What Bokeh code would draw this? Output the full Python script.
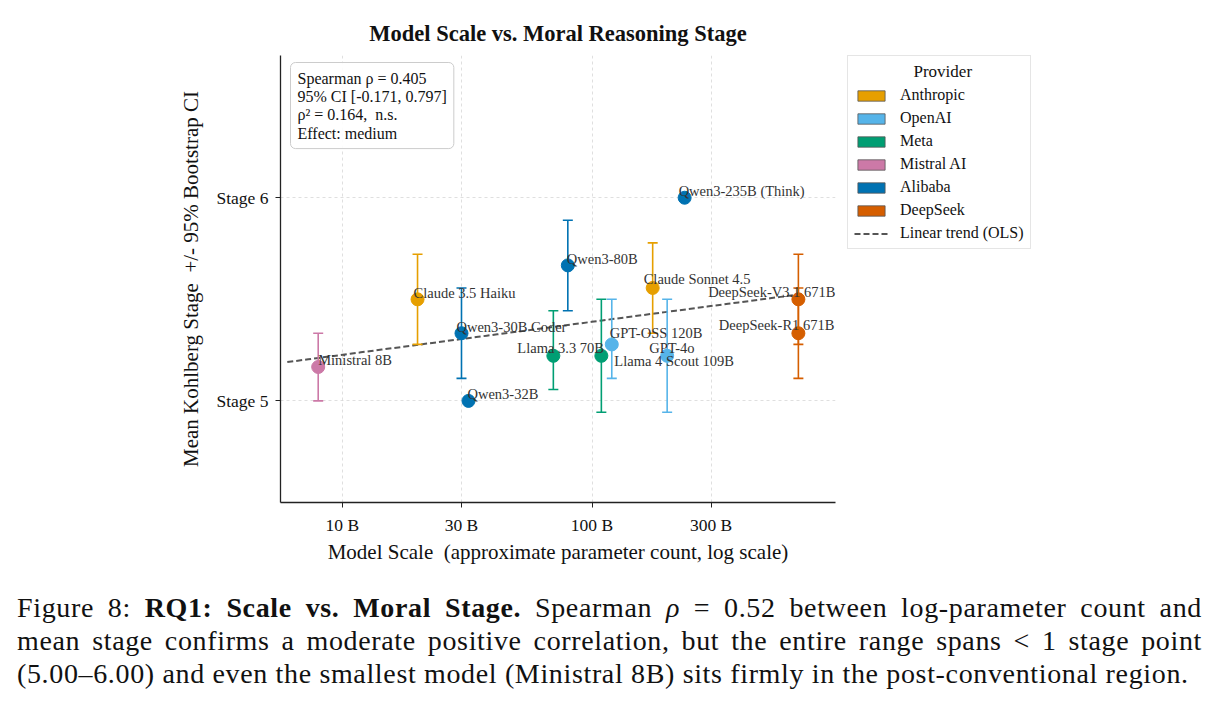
import numpy as np
from bokeh.plotting import figure
from bokeh.models import (ColumnDataSource, FixedTicker, Legend, LegendItem, Label, Div)
from bokeh.layouts import column, row
from bokeh.core.properties import value
from bokeh.embed import file_html
from bokeh.resources import INLINE

nan = float("nan")

# ---------------- data ----------------
models = ["Ministral 8B", "Claude 3.5 Haiku", "Qwen3-30B Coder", "Qwen3-32B",
          "Llama 3.3 70B", "Qwen3-80B", "Llama 4 Scout 109B", "GPT-OSS 120B",
          "Claude Sonnet 4.5", "GPT-4o", "Qwen3-235B (Think)",
          "DeepSeek-V3.1 671B", "DeepSeek-R1 671B"]
providers = ["Mistral AI", "Anthropic", "Alibaba", "Alibaba", "Meta", "Alibaba",
             "Meta", "OpenAI", "Anthropic", "OpenAI", "Alibaba", "DeepSeek", "DeepSeek"]
params_b = [8, 20, 30, 32, 70, 80, 109, 120, 175, 200, 235, 671, 671]
mean_stage = [5.167, 5.5, 5.333, 5.0, 5.222, 5.667, 5.222, 5.278, 5.556, 5.222,
              6.0, 5.5, 5.333]
ci_low = [5.0, 5.278, 5.111, nan, 5.056, 5.444, 4.944, 5.111, 5.333, 4.944,
          nan, 5.278, 5.111]
ci_high = [5.333, 5.722, 5.556, nan, 5.444, 5.889, 5.5, 5.5, 5.778, 5.5,
           nan, 5.722, 5.556]

provider_order = ["Anthropic", "OpenAI", "Meta", "Mistral AI", "Alibaba", "DeepSeek"]
provider_colors = ["#E69F00", "#56B4E9", "#009E73", "#CC79A7", "#0072B2", "#D55E00"]

x_ticks = [10, 30, 100, 300]
x_tick_labels = ["10 B", "30 B", "100 B", "300 B"]
y_ticks = [5, 6]
y_tick_labels = ["Stage 5", "Stage 6"]

stats_text = ("Spearman ρ = 0.405\n95% CI [-0.171, 0.797]\n"
              "ρ² = 0.164,\u00a0 n.s.\nEffect: medium")

# label placement (pixel offsets, style only)
label_dx = [0, -4, -5, -1, -36, -1, 13, -2, -9, -18, -6, 37, 36]
label_dy = [-7, -6, -6, -7, -8, -6, 5, -11, -9, -8, -7, -7, -8]
label_right = [False] * 11 + [True, True]

FONT = "Liberation Serif"
cmap = dict(zip(provider_order, provider_colors))
colors = [cmap[p] for p in providers]

TOP, BOTTOM, H = 55, 86, 588

p = figure(width=847, height=H, x_axis_type="log",
           x_range=(5.65, 945), y_range=(4.5, 6.7),
           output_backend="svg", toolbar_location=None,
           min_border_left=280, min_border_right=12,
           min_border_top=TOP, min_border_bottom=BOTTOM,
           title="Model Scale vs. Moral Reasoning Stage")
p.outline_line_color = None
p.background_fill_color = "white"
p.border_fill_color = "white"

p.title.text_font = FONT
p.title.text_font_size = "22.5px"
p.title.text_font_style = "bold"
p.title.align = "center"
p.title.text_color = "#111111"
p.title.standoff = 20

# axes
for ax in (p.xaxis[0], p.yaxis[0]):
    ax.axis_line_color = "#222222"
    ax.axis_line_width = 1.3
    ax.major_tick_line_color = "#222222"
    ax.major_tick_out = 5
    ax.major_tick_in = 0
    ax.minor_tick_line_color = None
    ax.major_label_text_font = FONT
    ax.major_label_text_font_size = "17.5px"
    ax.major_label_text_color = "#111111"
    ax.axis_label_text_font = FONT
    ax.axis_label_text_font_size = "21px"
    ax.axis_label_text_font_style = "normal"
    ax.axis_label_text_color = "#111111"

p.xaxis.ticker = FixedTicker(ticks=x_ticks, minor_ticks=[])
p.xaxis.major_label_overrides = {t: l for t, l in zip(x_ticks, x_tick_labels)}
p.yaxis.ticker = FixedTicker(ticks=y_ticks, minor_ticks=[])
p.yaxis.major_label_overrides = {t: l for t, l in zip(y_ticks, y_tick_labels)}
p.xaxis.axis_label = "Model Scale\u00a0 (approximate parameter count, log scale)"
p.yaxis.axis_label = "Mean Kohlberg Stage\u00a0 +/- 95% Bootstrap CI"
p.xaxis.major_label_standoff = 7
p.yaxis.major_label_standoff = 7
p.xaxis.axis_label_standoff = 2
p.yaxis.axis_label_standoff = 10

for g in (p.xgrid[0], p.ygrid[0]):
    g.grid_line_color = "#cccccc"
    g.grid_line_dash = "3 3"
    g.grid_line_width = 0.8
    g.grid_line_alpha = 0.8

# trend line (OLS on log10 params)
lx = np.log10(np.array(params_b, dtype=float))
ys = np.array(mean_stage)
slope, intercept = np.polyfit(lx, ys, 1)
tx = np.logspace(np.log10(min(params_b) / 1.33), np.log10(max(params_b) * 1.03), 50)
ty = slope * np.log10(tx) + intercept
TREND_STYLE = dict(line_color="#555555", line_width=2, line_dash="6 3")
p.line(tx, ty, **TREND_STYLE)

# error bars
has_ci = [not np.isnan(a) for a in ci_low]
eb = ColumnDataSource(dict(
    x=[x for x, h in zip(params_b, has_ci) if h],
    lo=[v for v, h in zip(ci_low, has_ci) if h],
    hi=[v for v, h in zip(ci_high, has_ci) if h],
    c=[c for c, h in zip(colors, has_ci) if h],
))
p.segment(x0="x", y0="lo", x1="x", y1="hi", source=eb, line_color="c", line_width=1.6)
p.scatter(x="x", y="lo", source=eb, marker="dash", size=10, line_color="c", line_width=1.6)
p.scatter(x="x", y="hi", source=eb, marker="dash", size=10, line_color="c", line_width=1.6)

# points
src = ColumnDataSource(dict(x=params_b, y=mean_stage, c=colors))
p.scatter(x="x", y="y", source=src, size=13, fill_color="c", line_color="c")

# labels
for right in (False, True):
    idx = [i for i, r in enumerate(label_right) if r == right]
    s = ColumnDataSource(dict(x=[params_b[i] for i in idx], y=[mean_stage[i] for i in idx],
                              t=[models[i] for i in idx], dx=[label_dx[i] for i in idx],
                              dy=[label_dy[i] for i in idx]))
    p.text(x="x", y="y", text="t", source=s, x_offset="dx", y_offset="dy",
           text_font=value(FONT), text_font_size="14.5px", text_color="#333333",
           text_align="right" if right else "left", text_baseline="middle")

# stats box
lab_kwargs = dict(x=10, y=440, x_units="screen", y_units="screen", text=stats_text,
                  text_font=FONT, text_font_size="16px", text_color="#111111",
                  background_fill_color="white", background_fill_alpha=0.9,
                  border_line_color="#cccccc", border_line_width=1)
props = Label.properties()
if "anchor" in props:
    lab_kwargs["anchor"] = "top_left"
if "padding" in props:
    lab_kwargs["padding"] = 7
if "border_radius" in props:
    lab_kwargs["border_radius"] = 5
if "text_line_height" in props:
    lab_kwargs["text_line_height"] = 1.08
p.add_layout(Label(**lab_kwargs))

# ---------------- legend in its own panel ----------------
lg = figure(width=1219 - 847, height=H, output_backend="svg", toolbar_location=None,
            x_range=(0, 1), y_range=(0, 1), x_axis_location=None, y_axis_location=None,
            min_border_left=0, min_border_right=0,
            min_border_top=TOP, min_border_bottom=BOTTOM)
lg.outline_line_color = None
lg.xgrid.visible = False
lg.ygrid.visible = False
lg.border_fill_color = "white"

items = []
for prov, col in zip(provider_order, provider_colors):
    r = lg.quad(left=[nan], right=[nan], bottom=[nan], top=[nan], fill_color=col,
                line_color="#555555", line_width=0.8)
    items.append(LegendItem(label=prov, renderers=[r]))
rt = lg.line([nan], [nan], **TREND_STYLE)
items.append(LegendItem(label="Linear trend (OLS)", renderers=[rt]))
legend = Legend(items=items, location="top_left", title="\u00a0" * 14 + "Provider",
                title_text_font=FONT, title_text_font_size="17px",
                title_text_font_style="normal", title_text_color="#111111",
                title_standoff=4,
                label_text_font=FONT, label_text_font_size="16px",
                label_text_color="#111111", label_standoff=12,
                glyph_width=34, glyph_height=13, label_height=16,
                spacing=5, padding=6, margin=0,
                border_line_color="#cccccc", border_line_width=1,
                background_fill_alpha=1.0)
lg.add_layout(legend, "center")

line_style = "text-align: justify; text-align-last: justify;"
caption = Div(
    text=(f"<div style='width:1185px'>"
          f"<div style='{line_style}'>Figure 8: <b>RQ1: Scale vs. Moral Stage.</b> "
          "Spearman <i>ρ</i> = 0.52 between log-parameter count and</div>"
          f"<div style='{line_style}'>mean stage confirms a moderate positive correlation, "
          "but the entire range spans &lt; 1 stage point</div>"
          "<div>(5.00–6.00) and even the smallest model (Ministral 8B) sits firmly "
          "in the post-conventional region.</div></div>"),
    width=1200, height=115,
    styles={"font-family": FONT, "font-size": "28px", "line-height": "33px",
            "letter-spacing": "0.65px",
            "color": "#111111", "margin-left": "17px", "margin-top": "3px"},
)

layout = column(row(p, lg, spacing=0), caption, spacing=0)
open("out.html", "w").write(file_html(layout, INLINE))
